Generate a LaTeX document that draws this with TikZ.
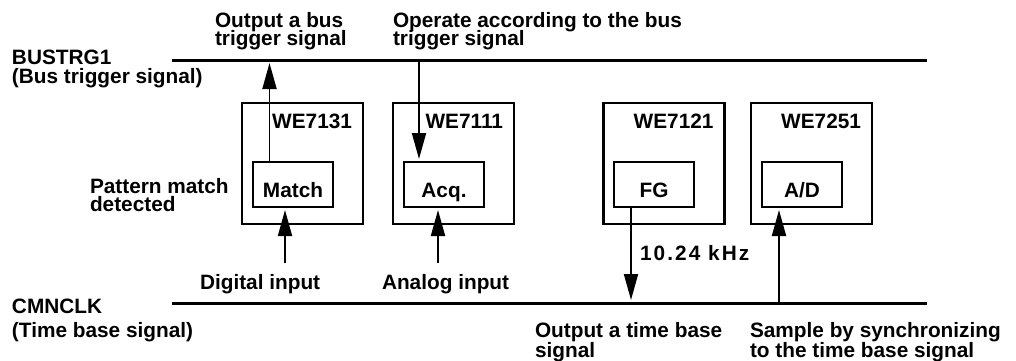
\documentclass[tikz,border=0pt]{standalone}
\usepackage{fontspec}
\setmainfont{Liberation Sans}
\usepackage{tikz}
\usetikzlibrary{arrows.meta,positioning}
\lineskiplimit=-20pt

\begin{document}
\begin{tikzpicture}[x=1pt,y=-1pt,shorten >=3pt,
	font=\bfseries\fontsize{20.8}{18.8}\selectfont,
	every node/.style={inner sep=0pt,outer sep=0pt},
	txt/.style={anchor=north west,align=left},
	board/.style={draw,line width=2.6pt,minimum width=121pt,minimum height=121pt},
	unit/.style={draw,line width=2.4pt,minimum width=80pt,minimum height=45pt,
		text height=25pt,text depth=0pt},
	bus/.style={line width=3pt},
	sig/.style={line width=1.9pt,-{Triangle[length=26pt,width=14pt]}}]
	\useasboundingbox (0,0) rectangle (1016,360);

	% the two bus lines
	\coordinate (trgw) at (172,60);
	\coordinate (trge) at (930,60);
	\coordinate (clkw) at (172,303);
	\coordinate (clke) at (930,303);
	\draw[bus] (trgw) -- (trge);
	\draw[bus] (clkw) -- (clke);

	% modules
	\node[board] (b7131) at (302.5,163.5) {};
	\node[board] (b7111) at (453.5,163.5) {};
	\node[board] (b7121) at (664,163.5) {};
	\node[board] (b7251) at (811.5,163.5) {};
	\node[below left=11pt and 11pt of b7131.north east] {WE7131};
	\node[below left=11pt and 11pt of b7111.north east] {WE7111};
	\node[below left=11pt and 11pt of b7121.north east] {WE7121};
	\node[below left=11pt and 11pt of b7251.north east] {WE7251};

	\node[unit] (match) at ([shift={(-9.5,21)}]b7131) {Match};
	\node[unit] (acq) at ([shift={(-9.5,21)}]b7111) {Acq.};
	\node[unit] (fg) at ([shift={(-10,21)}]b7121) {FG};
	\node[unit] (ad) at ([shift={(-9.5,21)}]b7251) {A/D};

	% texts
	\node[txt] (outbus) at (215,12) {Output a bus\\trigger signal};
	\node[txt] (operate) at (393,12) {Operate according to the bus\\trigger signal};
	\node[txt] (bustrg) at (12,50) {BUSTRG1\\(Bus trigger signal)};
	\node[txt] (pattern) at (90,178) {Pattern match\\detected};
	\node[txt] (digital) at (200,274) {Digital input};
	\node[txt] (analog) at (382,274) {Analog input};
	\node[txt] (cmnclk) at (12,299) {CMNCLK\\[5.5pt](Time base signal)};
	\node[txt] (freq) at (640,245) {\addfontfeature{LetterSpace=10}10.24 kHz};
	\node[txt] (outtime) at (535,322) {Output a time base\\[1.5pt]signal};
	\node[txt] (sample) at (750,322) {Sample by synchronizing\\[1.5pt]to the time base signal};

	% signals
	\coordinate (m1) at ([xshift=-23.5pt]match.north);
	\coordinate (m2) at ([xshift=-8pt]match.south);
	\coordinate (a1) at ([xshift=-25pt]acq.north);
	\coordinate (a2) at ([xshift=-6pt]acq.south);
	\coordinate (f1) at ([xshift=-23pt]fg.south);
	\coordinate (d1) at ([xshift=-23pt]ad.south);
	\path[sig]
		(m1) edge (m1 |- trgw)
		(a1 |- trgw) edge (a1)
		([yshift=11pt]digital.north -| m2) edge (m2)
		([yshift=11pt]analog.north -| a2) edge (a2)
		(f1) edge (f1 |- clkw)
		(d1 |- clkw) edge (d1);
\end{tikzpicture}
\end{document}
